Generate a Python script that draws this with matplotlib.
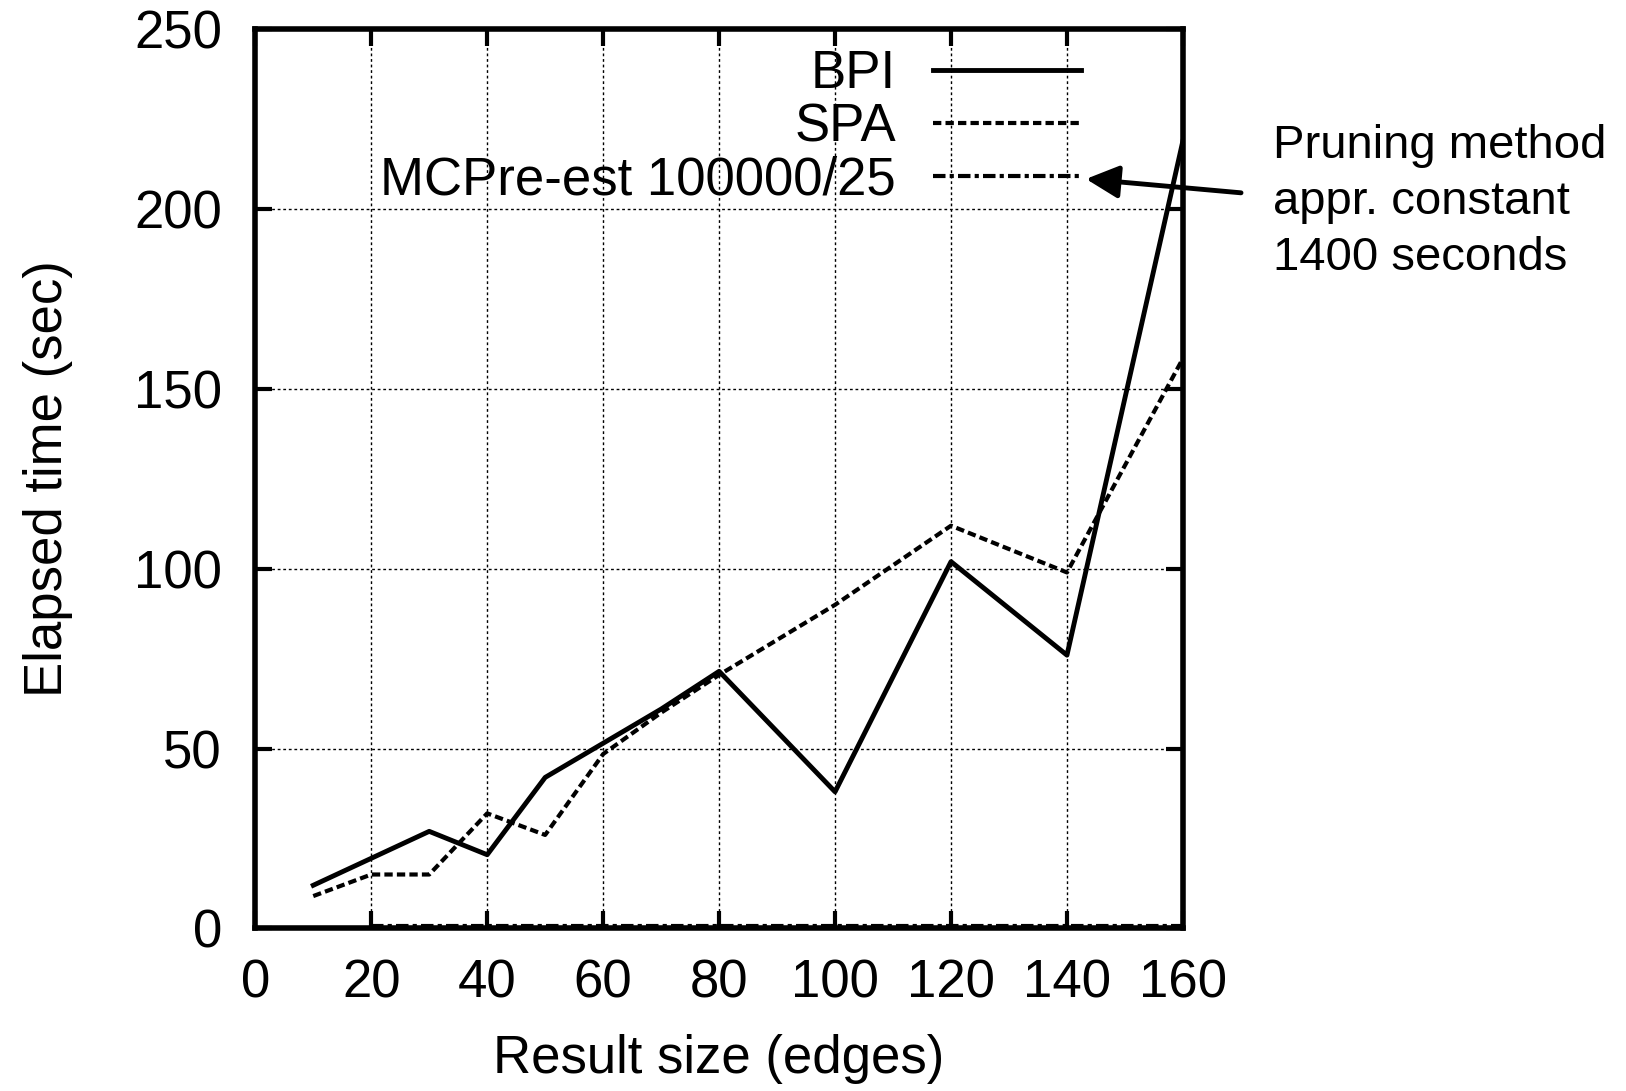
import matplotlib
matplotlib.use('Agg')
import matplotlib.pyplot as plt

plt.rcParams['font.family'] = ['Liberation Sans', 'DejaVu Sans']

x_bpi = [10, 30, 40, 50, 60, 70, 80, 100, 120, 140, 160]
bpi = [12, 27, 20.5, 42, 51.5, 61, 71.5, 38, 102, 76, 219]

x_spa = [10, 20, 30, 40, 50, 60, 70, 80, 100, 120, 140, 160]
spa = [9, 15, 15, 32, 26, 48.5, 60, 70.5, 90, 112, 99, 158.5]

x_mc = [20, 40, 60, 80, 100, 120, 140, 160]
mc = [0.6, 0.6, 0.6, 0.6, 0.6, 0.6, 0.6, 0.6]

xticks = [0, 20, 40, 60, 80, 100, 120, 140, 160]
yticks = [0, 50, 100, 150, 200, 250]

fig = plt.figure(figsize=(16.26, 10.91), dpi=100)
ax = fig.add_axes([0.157, 0.149, 0.5705, 0.824])

ax.plot(x_bpi, bpi, color='black', lw=3.5, label='BPI')
ax.plot(x_spa, spa, color='black', lw=3, linestyle=(0, (2, 1)), label='SPA')
ax.plot(x_mc, mc, color='black', lw=3, linestyle=(0, (3, 1, 1, 1)), label='MCPre-est 100000/25')

ax.set_xlim(0, 160)
ax.set_ylim(0, 250)
ax.set_xticks(xticks)
ax.set_yticks(yticks)
ax.grid(True, color='black', lw=1, linestyle=(0, (2, 2)))
ax.tick_params(direction='in', length=12, width=3, labelsize=38,
               top=True, right=True, pad=24)
ax.tick_params(axis='x', pad=22)
for s in ax.spines.values():
    s.set_linewidth(4)

ax.set_xlabel('Result size (edges)', fontsize=38, labelpad=18)
ax.set_ylabel('Elapsed time (sec)', fontsize=38, labelpad=44)

leg = ax.legend(loc='upper right', bbox_to_anchor=(0.89, 0.978), frameon=False,
                markerfirst=False, fontsize=38, handlelength=2.8,
                labelspacing=0.06, borderpad=0, borderaxespad=0, handletextpad=0.7)

ax.annotate('', xy=(142.8, 208.5), xytext=(170.5, 204.5), annotation_clip=False,
            arrowprops=dict(arrowstyle='-|>', lw=3.5, color='black', mutation_scale=50))
ax.text(175.5, 202, 'Pruning method\nappr. constant\n1400 seconds', fontsize=34,
        ha='left', va='center', linespacing=1.35, clip_on=False)

fig.savefig('out.png', dpi=100)
